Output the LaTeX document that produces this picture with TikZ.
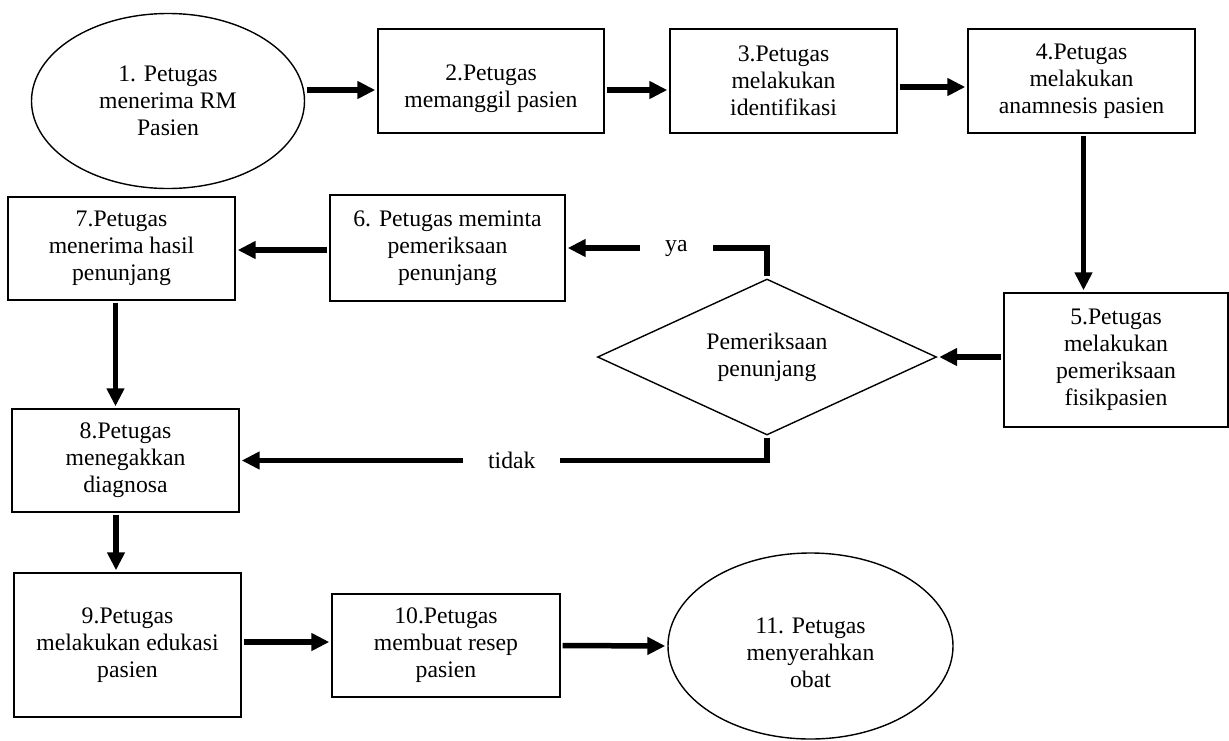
\documentclass[tikz,border=0pt]{standalone}
\usepackage{fontspec}
\setmainfont{Liberation Serif}
\usetikzlibrary{shapes.geometric,arrows.meta}
\begin{document}
\begin{tikzpicture}[x=1pt,y=-1pt,
  every node/.style={font=\fontsize{23.7}{27}\selectfont, align=center, inner sep=0pt},
  stepbox/.style={draw, line width=1.4pt, rectangle},
  oval/.style={draw, line width=1.4pt, ellipse},
  decision/.style={draw, line width=1.4pt, diamond},
  flow/.style={line width=5.5pt, -{Triangle[length=18pt,width=17pt]},
               shorten <=2pt, shorten >=2pt},
  branch/.style={fill=white, inner xsep=25pt, inner ysep=3pt}
]
\useasboundingbox (0,0) rectangle (1229,740);

% process steps
\node[oval, minimum width=273pt, minimum height=175pt] (e1) at (168,101)
  {1. Petugas\\menerima RM\\Pasien};
\node[stepbox, minimum width=226pt, minimum height=104pt, text height=58pt] (b2) at (491,81)
  {2.Petugas\\memanggil pasien};
\node[stepbox, minimum width=227pt, minimum height=104pt] (b3) at (783.5,81)
  {3.Petugas\\melakukan\\identifikasi};
\node[stepbox, minimum width=227pt, minimum height=104pt] (b4) at (1081.5,81)
  {4.Petugas\\melakukan\\anamnesis pasien};
\node[stepbox, minimum width=224pt, minimum height=134pt] (b5) at (1116,360)
  {5.Petugas\\melakukan\\pemeriksaan\\fisikpasien};
\node[decision, minimum width=339pt, minimum height=156pt, aspect=2.17] (dia) at (767,357)
  {Pemeriksaan\\penunjang};
\node[stepbox, minimum width=235pt, minimum height=106pt] (b6) at (447.5,248)
  {6. Petugas meminta\\pemeriksaan\\penunjang};
\node[stepbox, minimum width=227pt, minimum height=103pt] (b7) at (121.5,248.5)
  {7.Petugas\\menerima hasil\\penunjang};
\node[stepbox, minimum width=227pt, minimum height=103pt] (b8) at (125.5,460.5)
  {8.Petugas\\menegakkan\\diagnosa};
\node[stepbox, minimum width=227pt, minimum height=144pt] (b9) at (127.5,645)
  {9.Petugas\\melakukan edukasi\\pasien};
\node[stepbox, minimum width=228pt, minimum height=103pt] (b10) at (446,645.5)
  {10.Petugas\\membuat resep\\pasien};
\node[oval, minimum width=285pt, minimum height=186pt, text height=83pt] (e11) at (810.5,646)
  {11. Petugas\\menyerahkan\\obat};

% connectors
\draw[flow] ([yshift=11pt]e1.east) -- ([yshift=-9pt]b2.west);
\draw[flow] ([yshift=-9pt]b2.east) -- ([yshift=-9pt]b3.west);
\draw[flow] ([yshift=-6pt]b3.east) -- ([yshift=-6pt]b4.west);
\draw[flow] ([xshift=2pt]b4.south) -- ([xshift=2pt]b4.south |- b5.north);
\draw[flow] (b5.west |- dia.east) -- (dia.east);
\draw[flow] (dia.north) |- node[branch, pos=0.725] {ya} (b6.east);
\draw[flow] (dia.south) |- node[branch, pos=0.742] {tidak} (b8.east);
\draw[flow] ([yshift=-2pt]b6.west) -- ([yshift=-2pt]b6.west -| b7.east);
\draw[flow] ([xshift=-6pt]b7.south) -- ([xshift=-6pt]b7.south |- b8.north);
\draw[flow] ([xshift=-9.5pt]b8.south) -- ([xshift=-9.5pt]b8.south |- b9.north);
\draw[flow] ([yshift=3pt]b9.east) -- ([yshift=3pt]b9.east -| b10.west);
\draw[flow] (b10.east) -- (e11.west);
\end{tikzpicture}
\end{document}
